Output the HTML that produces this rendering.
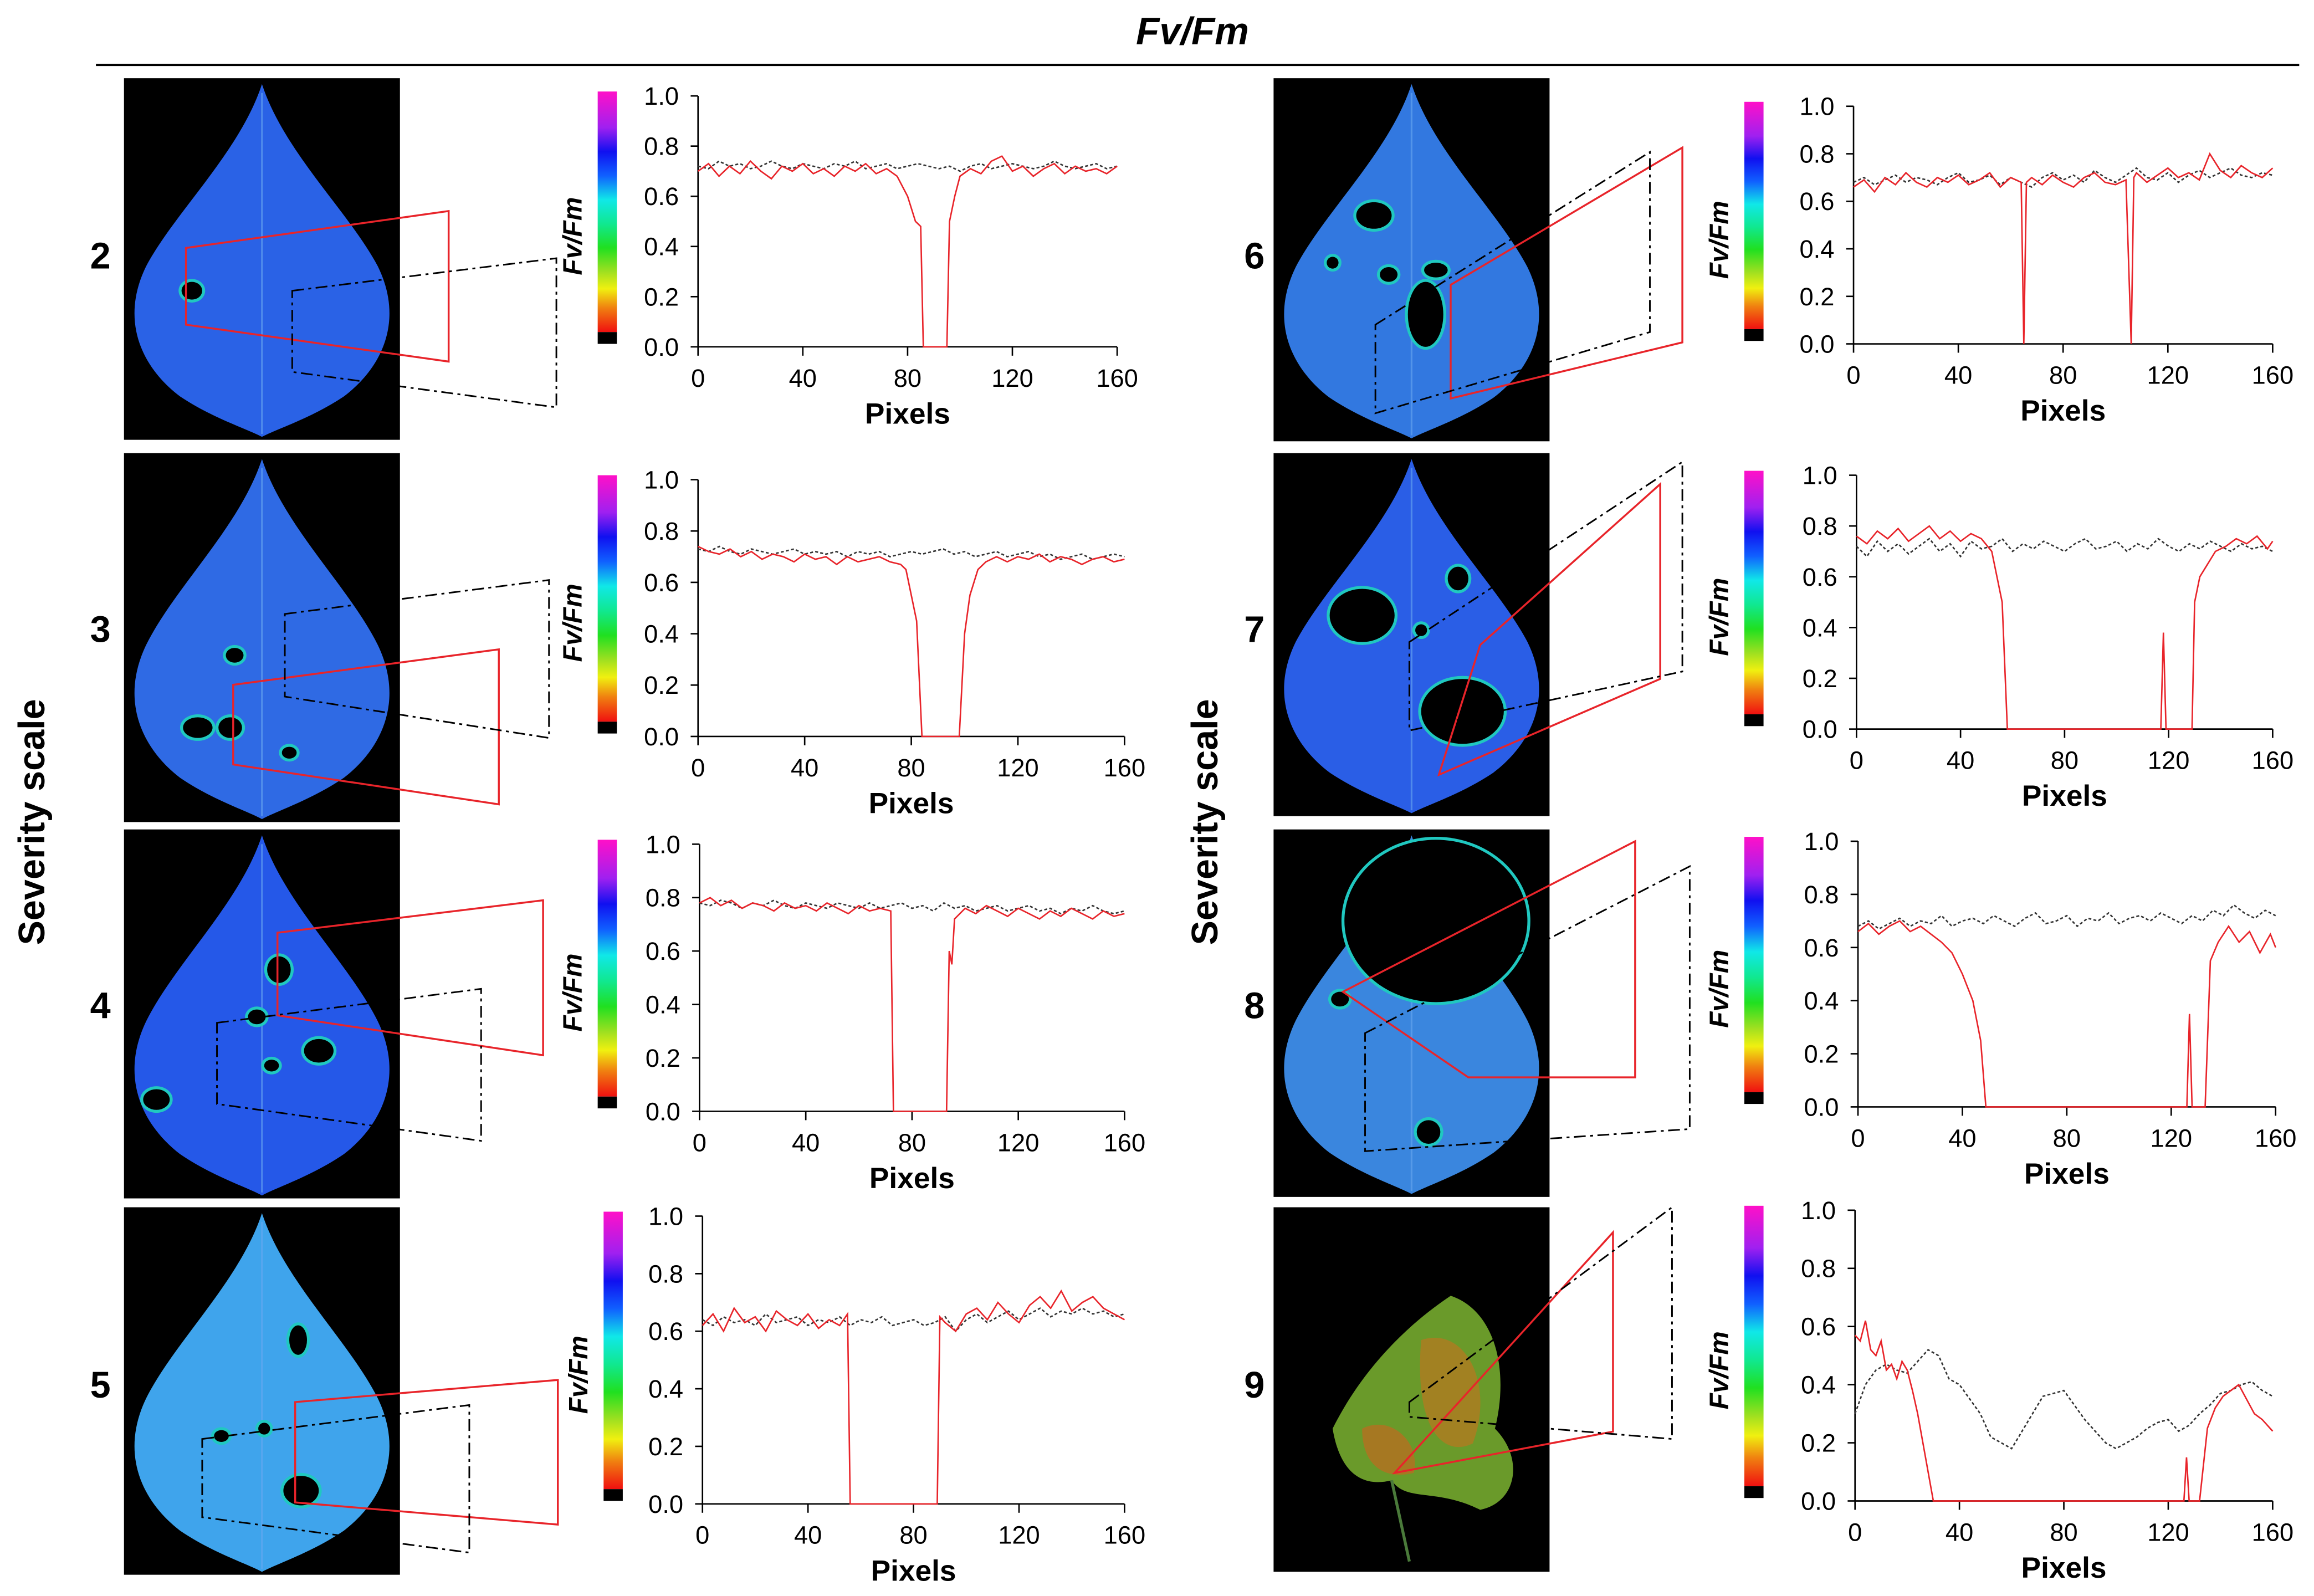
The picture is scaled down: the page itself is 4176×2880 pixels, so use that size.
<!DOCTYPE html>
<html><head><meta charset="utf-8"><style>
html,body{margin:0;padding:0;background:#fff;}
svg{display:block;font-family:"Liberation Sans",sans-serif;}
</style></head><body>
<svg id="fig" width="4176" height="2880" viewBox="0 0 1568 1081.4" xmlns="http://www.w3.org/2000/svg">
<defs>
<linearGradient id="cb" x1="0" y1="0" x2="0" y2="1">
<stop offset="0" stop-color="#ff10c8"/><stop offset="0.15" stop-color="#a020f0"/><stop offset="0.25" stop-color="#1010f0"/><stop offset="0.35" stop-color="#1060ff"/><stop offset="0.45" stop-color="#10e8e8"/><stop offset="0.55" stop-color="#10e890"/><stop offset="0.65" stop-color="#20e020"/><stop offset="0.75" stop-color="#a0e020"/><stop offset="0.82" stop-color="#f0f010"/><stop offset="0.9" stop-color="#f08010"/><stop offset="1" stop-color="#f01010"/>
</linearGradient>
</defs>
<text x="808" y="30" text-anchor="middle" font-size="26" font-weight="bold" font-style="italic">Fv/Fm</text>
<line x1="65" y1="44" x2="1558" y2="44" stroke="#000" stroke-width="1.5"/>
<text transform="translate(30,557) rotate(-90)" text-anchor="middle" font-size="25" font-weight="bold">Severity scale</text>
<text transform="translate(825,557) rotate(-90)" text-anchor="middle" font-size="25" font-weight="bold">Severity scale</text>
<g id="leaves"></g>
<g id="charts"></g>
</svg>
<script>
// ---- chart data (values are Fv/Fm, x in pixels) ----
const xTicks = [0, 40, 80, 120, 160];
const yTicks = [0.0, 0.2, 0.4, 0.6, 0.8, 1.0];
const yTickLabels = ["0.0", "0.2", "0.4", "0.6", "0.8", "1.0"];
const darkX = [0,4,8,12,16,20,24,28,32,36,40,44,48,52,56,60,64,68,72,76,80,84,88,92,96,100,104,108,112,116,120,124,128,132,136,140,144,148,152,156,160];

const red2X = [0,4,8,12,16,20,24,28,32,36,40,44,48,52,56,60,64,68,72,76,80,83,85,86,95,96,98,100,104,108,112,116,120,124,128,132,136,140,144,148,152,156,160];
const red2Y = [.70,.73,.68,.72,.69,.74,.70,.67,.72,.70,.73,.69,.71,.68,.72,.70,.73,.69,.71,.68,.60,.50,.48,0,0,.50,.60,.68,.71,.69,.74,.76,.70,.72,.68,.71,.73,.69,.72,.70,.71,.69,.72];
const dark2Y = [.72,.71,.74,.72,.73,.71,.72,.74,.72,.71,.73,.72,.71,.73,.72,.74,.71,.72,.73,.71,.72,.73,.72,.71,.72,.70,.72,.73,.71,.72,.73,.72,.71,.72,.74,.72,.71,.72,.73,.71,.72];

const red3X = [0,4,8,12,16,20,24,28,32,36,40,44,48,52,56,60,64,68,72,76,78,80,82,84,98,100,102,105,108,112,116,120,124,128,132,136,140,144,148,152,156,160];
const red3Y = [.74,.72,.71,.73,.70,.72,.69,.71,.70,.68,.71,.69,.70,.67,.70,.68,.69,.70,.68,.67,.65,.55,.45,0,0,.40,.55,.65,.68,.70,.68,.70,.69,.71,.68,.70,.69,.67,.69,.70,.68,.69];
const dark3Y = [.73,.72,.74,.72,.71,.73,.72,.71,.72,.73,.71,.72,.71,.72,.70,.72,.71,.72,.70,.71,.72,.71,.72,.73,.71,.72,.70,.71,.72,.70,.71,.72,.70,.71,.69,.70,.71,.69,.70,.71,.70];

const red4X = [0,4,8,12,16,20,24,28,32,36,40,44,48,52,56,60,64,68,72,73,93,94,95,96,100,104,108,112,116,120,124,128,132,136,140,144,148,152,156,160];
const red4Y = [.78,.80,.77,.79,.76,.78,.77,.75,.78,.76,.77,.75,.78,.76,.74,.77,.75,.76,.75,0,0,.60,.55,.72,.76,.74,.77,.75,.73,.76,.74,.72,.75,.73,.76,.74,.72,.75,.73,.74];
const dark4Y = [.78,.77,.79,.78,.76,.78,.77,.79,.77,.76,.78,.77,.76,.78,.77,.76,.78,.76,.77,.78,.76,.77,.75,.78,.76,.77,.75,.76,.77,.75,.76,.77,.75,.76,.74,.76,.75,.77,.75,.74,.75];

const red5X = [0,4,8,12,16,20,24,28,32,36,40,44,48,52,55,56,89,90,92,96,100,104,108,112,116,120,124,128,132,136,140,144,148,152,156,160];
const red5Y = [.62,.66,.60,.68,.63,.65,.60,.67,.64,.62,.66,.61,.64,.62,.66,0,0,.65,.63,.60,.66,.68,.64,.70,.66,.63,.69,.72,.68,.74,.67,.70,.72,.68,.66,.64];
const dark5Y = [.64,.62,.65,.63,.64,.62,.66,.63,.64,.65,.62,.64,.63,.65,.62,.64,.63,.65,.62,.63,.64,.62,.63,.65,.60,.64,.66,.63,.65,.67,.64,.66,.68,.65,.67,.66,.68,.66,.67,.65,.66];

const red6X = [0,4,8,12,16,20,24,28,32,36,40,44,48,52,56,60,64,65,66,68,72,76,80,84,88,92,96,100,104,106,107,108,112,116,120,124,128,132,136,140,144,148,152,156,160];
const red6Y = [.66,.69,.64,.70,.67,.72,.68,.66,.70,.68,.71,.67,.69,.72,.66,.70,.68,0,.68,.70,.67,.71,.68,.66,.70,.72,.68,.67,.69,0,.70,.72,.68,.71,.74,.70,.72,.69,.80,.73,.70,.75,.72,.70,.74];
const dark6Y = [.68,.70,.67,.69,.71,.68,.70,.69,.67,.70,.72,.68,.69,.71,.67,.70,.68,.66,.70,.72,.69,.71,.68,.73,.70,.68,.71,.74,.70,.69,.72,.68,.71,.73,.70,.72,.74,.71,.70,.72,.71];

const red7X = [0,4,8,12,16,20,24,28,32,36,40,44,48,52,54,56,58,117,118,119,129,130,132,135,138,142,146,150,154,158,160];
const red7Y = [.76,.73,.78,.75,.79,.74,.77,.80,.75,.78,.74,.77,.75,.70,.60,.50,0,0,.38,0,0,.50,.60,.65,.70,.72,.75,.73,.76,.71,.74];
const dark7Y = [.72,.68,.74,.70,.73,.69,.72,.75,.70,.73,.68,.74,.71,.72,.75,.70,.73,.71,.74,.72,.70,.73,.75,.71,.72,.74,.70,.73,.71,.75,.72,.70,.73,.71,.74,.72,.70,.73,.71,.72,.70];

const red8X = [0,4,8,12,16,20,24,28,32,36,40,44,47,49,126,127,128,133,135,138,142,146,150,154,158,160];
const red8Y = [.66,.69,.65,.68,.70,.66,.68,.65,.62,.58,.50,.40,.25,0,0,.35,0,0,.55,.62,.68,.62,.66,.58,.65,.60];
const dark8Y = [.68,.70,.67,.69,.71,.68,.70,.69,.72,.68,.70,.71,.69,.72,.70,.68,.71,.73,.69,.70,.72,.68,.71,.70,.73,.69,.71,.72,.70,.73,.71,.69,.72,.70,.74,.72,.76,.73,.71,.74,.72];

const red9X = [0,2,4,6,8,10,12,14,16,18,20,22,24,27,30,126,127,128,132,135,138,141,144,147,150,153,156,160];
const red9Y = [.57,.55,.62,.52,.50,.55,.45,.47,.42,.48,.45,.38,.30,.15,0,0,.15,0,0,.25,.32,.36,.38,.40,.35,.30,.28,.24];
const dark9Y = [.30,.40,.45,.47,.45,.44,.48,.52,.50,.42,.40,.35,.30,.22,.20,.18,.24,.30,.36,.37,.38,.33,.28,.24,.20,.18,.20,.22,.25,.27,.28,.24,.26,.30,.33,.37,.38,.40,.41,.38,.36];

const chartRedX = [red2X, red3X, red4X, red5X, red6X, red7X, red8X, red9X];
const chartRedY = [red2Y, red3Y, red4Y, red5Y, red6Y, red7Y, red8Y, red9Y];
const chartDarkY = [dark2Y, dark3Y, dark4Y, dark5Y, dark6Y, dark7Y, dark8Y, dark9Y];
const severityLabels = ["2","3","4","5","6","7","8","9"];

// ---- layout (not data) ----
const layout = [
 {x0:473,x1:757,y0:235,y1:65,cb:405, lx:84, ly:53, lh:245, nx:68, ny:182},
 {x0:473,x1:762,y0:499,y1:325,cb:405, lx:84, ly:307,lh:250, nx:68, ny:435},
 {x0:474,x1:762,y0:753,y1:572,cb:405, lx:84, ly:562,lh:250, nx:68, ny:690},
 {x0:476,x1:762,y0:1019,y1:824,cb:409, lx:84, ly:818,lh:249, nx:68, ny:947},
 {x0:1256,x1:1540,y0:233,y1:72,cb:1182, lx:863,ly:53, lh:246, nx:850,ny:182},
 {x0:1258,x1:1540,y0:494,y1:322,cb:1182, lx:863,ly:307,lh:246, nx:850,ny:435},
 {x0:1259,x1:1542,y0:750,y1:570,cb:1182, lx:863,ly:562,lh:249, nx:850,ny:690},
 {x0:1257,x1:1540,y0:1017,y1:820,cb:1182, lx:863,ly:818,lh:247, nx:850,ny:947}
];
const redBoxes = [
 [[126,168],[304,143],[304,245],[126,220]],
 [[158,464],[338,440],[338,545],[158,518]],
 [[188,632],[368,610],[368,715],[188,688]],
 [[200,950],[378,935],[378,1033],[200,1018]],
 [[983,193],[1140,100],[1140,232],[983,270]],
 [[975,525],[1003,437],[1125,328],[1125,460]],
 [[910,672],[1108,570],[1108,730],[995,730]],
 [[945,998],[1093,835],[1093,970]]
];
const dashBoxes = [
 [[198,197],[377,175],[377,276],[198,252]],
 [[193,416],[372,393],[372,500],[193,472]],
 [[147,693],[326,670],[326,773],[147,748]],
 [[137,975],[318,952],[318,1052],[137,1028]],
 [[932,220],[1118,103],[1118,225],[932,280]],
 [[955,435],[1140,313],[1140,455],[955,495]],
 [[925,700],[1145,587],[1145,765],[925,780]],
 [[955,950],[1133,818],[1133,975],[955,960]]
];
const leafFill = ["#2a62e6","#2f6ae4","#2558e8","#3fa4ec","#3278e0","#2a5ee6","#3a86de","none"];
const spots = [
 [[46,144,7,6]],
 [[75,137,6,5],[50,186,10,7],[72,186,8,7],[112,203,5,4]],
 [[105,95,8,9],[90,127,6,5],[132,150,10,8],[22,183,9,7],[100,160,5,4]],
 [[120,192,12,10],[118,90,6,10],[66,155,5,4],[95,150,4,4]],
 [[68,93,12,9],[103,160,12,22],[78,133,6,5],[110,130,8,5],[40,125,4,4]],
 [[60,110,22,18],[128,175,28,22],[125,85,7,8],[100,120,4,4]],
 [[110,62,62,55],[105,205,8,8],[45,115,6,5]],
 []
];

const NS = "http://www.w3.org/2000/svg";
function mk(tag, attrs, parent){ const e=document.createElementNS(NS,tag); for(const k in attrs) e.setAttribute(k,attrs[k]); parent.appendChild(e); return e; }
const leavesG = document.getElementById('leaves');
const chartsG = document.getElementById('charts');

for(let i=0;i<8;i++){
  const L = layout[i];
  const g = mk('g',{transform:`translate(${L.lx},${L.ly})`},leavesG);
  
  
  const cl = mk('clipPath',{id:'clip'+i},g);
  mk('rect',{x:0,y:0,width:187,height:L.lh},cl);
  mk('rect',{x:0,y:0,width:187,height:L.lh,fill:'#000'},g);
  const inner = mk('g',{'clip-path':`url(#clip${i})`},g);
  const h=L.lh, w=187, c=w/2;
  const d=`M${c},4 C${c+15},50 ${w-35},90 ${w-15},${h*0.52} C${w+3},${h*0.67} ${w-12},${h*0.8} ${w-38},${h*0.88} C${w-60},${h*0.94} ${c+10},${h*0.97} ${c},${h-2} C${c-10},${h*0.97} 60,${h*0.94} 38,${h*0.88} C12,${h*0.8} -3,${h*0.67} 15,${h*0.52} C35,90 ${c-15},50 ${c},4Z`;
  if(i<7){
    mk('path',{d:d,fill:leafFill[i]},inner);
    mk('line',{x1:c,y1:10,x2:c,y2:h-4,stroke:'#6aa8f0','stroke-width':1.2,opacity:0.6},inner);
  } else {
    mk('path',{d:`M40,150 C60,110 90,80 120,60 C150,70 160,110 150,150 C170,170 165,200 140,205 C110,190 90,200 80,185 C60,190 45,180 40,150Z`,fill:'#6a9a2a'},inner);
    mk('path',{d:`M100,90 C130,80 150,120 135,160 C115,170 95,150 100,90Z`,fill:'#b07a20',opacity:0.8},inner);
    mk('path',{d:`M60,150 C80,140 100,160 95,180 C75,185 60,175 60,150Z`,fill:'#c06a20',opacity:0.7},inner);
    mk('line',{x1:80,y1:185,x2:92,y2:240,stroke:'#4a7a3a','stroke-width':2},inner);
  }
  spots[i].forEach(s=>{ mk('ellipse',{cx:s[0],cy:s[1],rx:s[2]+2,ry:s[3]+2,fill:'#20c8c0'},inner); mk('ellipse',{cx:s[0],cy:s[1],rx:s[2],ry:s[3],fill:'#000'},inner); });

  const num = mk('text',{x:L.nx,y:L.ny,'text-anchor':'middle','font-size':25,'font-weight':'bold'},chartsG);
  num.textContent = severityLabels[i];
  
  

  const rb = mk('polygon',{points:redBoxes[i].map(p=>p.join(',')).join(' '),fill:'none',stroke:'#e8242a','stroke-width':1.3},chartsG);
  
  
  const db = mk('polygon',{points:dashBoxes[i].map(p=>p.join(',')).join(' '),fill:'none',stroke:'#000','stroke-width':1.1,'stroke-dasharray':'8 3 2 3'},chartsG);
  
  

  const cg = mk('g',{},chartsG);
  
  
  const sx = v => L.x0 + v/160*(L.x1-L.x0);
  const sy = v => L.y0 + v*(L.y1-L.y0);
  const cbTop = sy(1.0)-3, cbBlack = sy(0)-10;
  const cbar = mk('rect',{x:L.cb,y:cbTop,width:13,height:cbBlack-cbTop,fill:'url(#cb)'},cg);
  
  
  mk('rect',{x:L.cb,y:cbBlack,width:13,height:8,fill:'#000'},cg);
  const yl = mk('text',{transform:`translate(${L.cb-11},${(sy(0)+sy(1))/2+10}) rotate(-90)`,'text-anchor':'middle','font-size':18,'font-weight':'bold','font-style':'italic'},cg);
  yl.textContent='Fv/Fm';
  
  
  mk('line',{x1:L.x0,y1:sy(0),x2:L.x0,y2:sy(1),stroke:'#000','stroke-width':1},cg);
  mk('line',{x1:L.x0,y1:sy(0),x2:L.x1,y2:sy(0),stroke:'#000','stroke-width':1},cg);
  yTicks.forEach((t,k)=>{
    mk('line',{x1:L.x0-5,y1:sy(t),x2:L.x0,y2:sy(t),stroke:'#000'},cg);
    const tx = mk('text',{x:L.x0-13,y:sy(t)+6,'text-anchor':'end','font-size':17},cg);
    tx.textContent = yTickLabels[k];
    
    
  });
  xTicks.forEach(t=>{
    mk('line',{x1:sx(t),y1:sy(0),x2:sx(t),y2:sy(0)+6,stroke:'#000'},cg);
    const tx = mk('text',{x:sx(t),y:sy(0)+27,'text-anchor':'middle','font-size':17},cg);
    tx.textContent = String(t);
    
    
  });
  const xl = mk('text',{x:(L.x0+L.x1)/2,y:sy(0)+52,'text-anchor':'middle','font-size':20,'font-weight':'bold'},cg);
  xl.textContent='Pixels';
  
  

  const dk = mk('polyline',{points:darkX.map((x,k)=>sx(x)+','+sy(chartDarkY[i][k])).join(' '),fill:'none',stroke:'#333','stroke-width':1,'stroke-dasharray':'2 1.5'},cg);
  
  
  const rx = chartRedX[i], ry = chartRedY[i];
  const rl = mk('polyline',{points:rx.map((x,k)=>sx(x)+','+sy(ry[k])).join(' '),fill:'none',stroke:'#e8242a','stroke-width':1},cg);
  
  
}
</script>
</body></html>
